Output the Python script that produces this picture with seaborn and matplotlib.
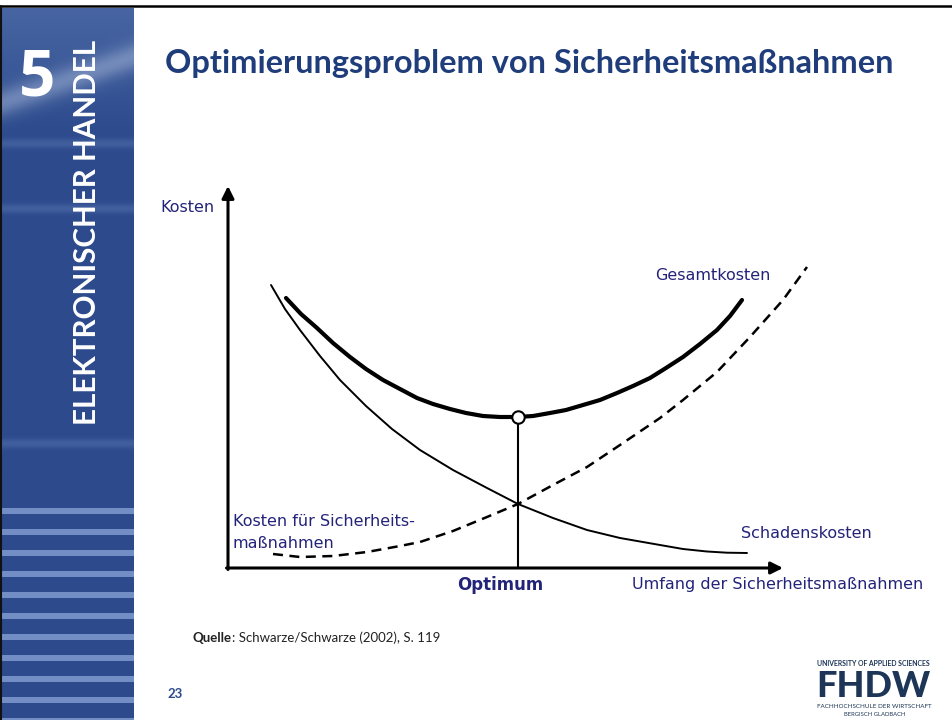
import numpy as np
import matplotlib
matplotlib.use("Agg")
import matplotlib.pyplot as plt
from matplotlib.lines import Line2D
import seaborn as sns

# Kurven (x = Umfang, y = Kosten)
gesamt_x = [58, 73, 89, 105, 122, 138, 155, 172, 189, 205, 222, 238, 255, 272, 289,
            305, 322, 338, 355, 372, 389, 405, 422, 438, 455, 472, 489, 502, 514]
gesamt_y = [270, 254, 240, 225, 211, 199, 188, 179, 170, 164, 159, 155, 152, 151, 151,
            152, 155, 158, 163, 168, 175, 182, 190, 200, 211, 224, 238, 252, 268]

schaden_x = [43, 57, 72, 92, 112, 138, 164, 192, 225, 259, 290, 325, 359, 392, 432, 455, 479, 499, 519]
schaden_y = [283, 259, 238, 212, 188, 162, 139, 118, 98, 80, 64, 50, 38, 30, 23, 19, 16.5, 15.3, 15]

sicher_x = [45, 72, 105, 139, 172, 192, 225, 259, 290, 325, 359, 392, 432, 455, 489, 522, 555, 579]
sicher_y = [14, 11, 12, 16, 22, 26, 37, 51, 64, 83, 101, 123, 150, 168, 196, 231, 268, 301]

optimum_x = 290
optimum_y = 151

titel = "Optimierungsproblem von Sicherheitsmaßnahmen"
kapitel = "ELEKTRONISCHER HANDEL"
navy = "#23237a"

sns.set_style("white")
plt.rcParams["font.family"] = ["DejaVu Sans"]

W, H = 953, 720
fig = plt.figure(figsize=(W / 100, H / 100), dpi=100)
fig.patch.set_facecolor("white")


def P(x, y):
    return x / W, 1 - y / H


def fit(t, width_px):
    r = fig.canvas.get_renderer()
    bb = t.get_window_extent(renderer=r)
    w = max(bb.width, bb.height)
    t.set_fontsize(t.get_fontsize() * width_px / w)


# Seitenleiste
sh, sw = 712, 134
yy, xx = np.mgrid[0:sh, 0:sw]
base = np.array([0x2c, 0x4a, 0x8c]) / 255
light = np.array([0x72, 0x8e, 0xc4]) / 255
img = np.ones((sh, sw, 3)) * base
top = np.clip(1 - yy / 130, 0, 1)[..., None] * 0.4
img = img * (1 - top) + light * top
swoosh = np.exp(-((yy - (95 - 0.35 * xx)) / 14) ** 2)[..., None] * 0.35
img = img * (1 - swoosh) + np.array([0.85, 0.9, 0.97]) * swoosh
for by in [135, 200, 435]:
    b = np.exp(-((yy - by) / 5) ** 2)[..., None] * 0.3
    img = img * (1 - b) + light * b
for s0 in range(500, sh, 21):
    img[s0:s0 + 6] = light
sb = fig.add_axes([0, 0, sw / W, sh / H])
sb.imshow(img, aspect="auto", extent=[0, sw, sh, 0])
sb.axis("off")

fig.add_artist(Line2D([0, 1], [1 - 6 / H, 1 - 6 / H], transform=fig.transFigure, color="black", lw=1.8))
fig.add_artist(Line2D([1 / W, 1 / W], [0, 1 - 6 / H], transform=fig.transFigure, color="#111111", lw=1.5))

fig.text(*P(19, 95), "5", color="white", fontsize=46, fontweight="bold", family="Open Sans",
         style="normal", va="baseline")
t = fig.text(*P(87, 232), kapitel, color="white", fontsize=24, fontweight="bold", family="Lato",
             rotation=90, ha="center", va="center")
fit(t, 385)

t = fig.text(*P(165, 73), titel, color="#1f3d7a", fontsize=22, fontweight="bold", family="Lato", va="baseline")
fit(t, 728)

# Diagramm
ax = fig.add_axes([228 / W, 152 / H, 600 / W, 390 / H])
ax.set_xlim(0, 600)
ax.set_ylim(0, 390)
ax.axis("off")

sns.lineplot(x=gesamt_x, y=gesamt_y, ax=ax, color="black", linewidth=3, sort=False, estimator=None,
             solid_joinstyle="round")
sns.lineplot(x=schaden_x, y=schaden_y, ax=ax, color="black", linewidth=1.4, sort=False, estimator=None,
             solid_joinstyle="round")
sns.lineplot(x=sicher_x, y=sicher_y, ax=ax, color="black", linewidth=1.8, sort=False, estimator=None,
             linestyle=(0, (4, 2.6)))
ax.vlines(optimum_x, 0, optimum_y, color="black", lw=1.5)
sns.scatterplot(x=[optimum_x], y=[optimum_y], ax=ax, s=80, color="white", edgecolor="black",
                linewidth=1.5, zorder=5)

arrow = dict(arrowstyle="-|>", color="black", lw=2.2, mutation_scale=18, shrinkA=0, shrinkB=0)
ax.annotate("", xy=(555, 0), xytext=(-1.5, 0), arrowprops=arrow)
ax.annotate("", xy=(0, 382), xytext=(0, -1.5), arrowprops=arrow)

lab = dict(color=navy, fontsize=11.5, va="center")
ax.text(-13, 360, "Kosten", ha="right", **lab)
ax.text(427, 293, "Gesamtkosten", ha="left", **lab)
ax.text(513, 35, "Schadenskosten", ha="left", **lab)
ax.text(5, 47, "Kosten für Sicherheits-", ha="left", **lab)
ax.text(5, 24, "maßnahmen", ha="left", **lab)
ax.text(404, -17, "Umfang der Sicherheitsmaßnahmen", ha="left", **lab)
ax.text(272, -17, "Optimum", ha="center", va="center", color=navy, fontsize=12, fontweight="bold")

# Fusszeile
r = fig.canvas.get_renderer()
q1 = fig.text(*P(193, 642), "Quelle", fontsize=9.5, fontweight="bold", family="Lato", color="#222222",
              va="baseline")
bb = q1.get_window_extent(renderer=r)
fig.text(bb.x1 / W, 1 - 642 / H, ": Schwarze/Schwarze (2002), S. 119", fontsize=9.5, family="Lato",
         color="#222222", va="baseline")
fig.text(*P(167, 698), "23", fontsize=9.5, fontweight="bold", family="Lato", color="#2b4a8c", va="baseline")

logo = "#1d3557"
t = fig.text(*P(817, 663), "UNIVERSITY OF APPLIED SCIENCES", fontsize=5, fontweight="bold", family="Lato",
             color=logo, va="center")
fit(t, 116)
t = fig.text(*P(816, 697), "FHDW", fontsize=28, fontweight="black", family="Lato", color=logo,
             va="baseline")
fit(t, 114)
t = fig.text(*P(817, 707), "FACHHOCHSCHULE DER WIRTSCHAFT", fontsize=5, family="Lato", color=logo,
             va="center")
fit(t, 115)
fig.text(*P(875, 714), "BERGISCH GLADBACH", fontsize=4.2, family="Lato", color=logo, va="center", ha="center")

fig.savefig("out.png", dpi=100)
